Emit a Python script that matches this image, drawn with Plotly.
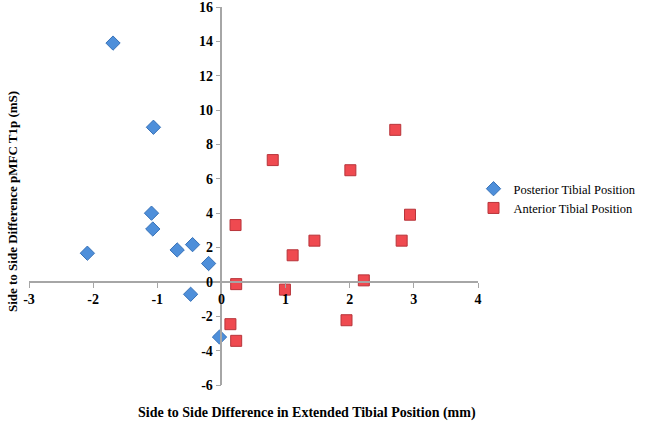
import plotly.graph_objects as go

# Posterior tibial position (blue diamonds)
post_x = [-1.69, -1.06, -1.09, -1.07, -2.09, -0.69, -0.45, -0.20, -0.48, -0.03]
post_y = [13.9, 9.0, 4.0, 3.08, 1.67, 1.86, 2.17, 1.07, -0.72, -3.21]

# Anterior tibial position (red squares)
ant_x = [0.22, 0.23, 0.14, 0.23, 0.80, 2.01, 2.71, 1.11, 1.45, 0.99, 2.22, 1.95, 2.81, 2.94]
ant_y = [3.31, -0.13, -2.46, -3.43, 7.09, 6.50, 8.85, 1.55, 2.40, -0.45, 0.09, -2.23, 2.40, 3.91]

x_range = [-3, 4]
y_range = [-6, 16]
x_ticks = [-3, -2, -1, 0, 1, 2, 3, 4]
y_ticks = [-6, -4, -2, 0, 2, 4, 6, 8, 10, 12, 14, 16]

serif = "Liberation Serif, Times New Roman, serif"

fig = go.Figure()
fig.add_trace(go.Scatter(
    x=post_x, y=post_y, mode="markers", name="Posterior Tibial Position",
    marker=dict(symbol="diamond", size=11, color="#4E8FDA",
                line=dict(color="#3872B8", width=1)),
))
fig.add_trace(go.Scatter(
    x=ant_x, y=ant_y, mode="markers", name="Anterior Tibial Position",
    marker=dict(symbol="square", size=11, color="#EF4A50",
                line=dict(color="#B8343A", width=1)),
))

# axes cross at the origin
x_pos = (0 - y_range[0]) / (y_range[1] - y_range[0])
y_pos = (0 - x_range[0]) / (x_range[1] - x_range[0])

axis_style = dict(
    showgrid=False, zeroline=False, showline=True, linecolor="#A6A6A6",
    linewidth=1.5, ticks="outside", ticklen=5, tickcolor="#A6A6A6",
    tickfont=dict(family=serif, size=14, color="black"),
    ticklabeloverflow="allow", anchor="free",
)

fig.update_layout(
    width=650, height=421,
    margin=dict(l=29, r=172, t=7, b=36, autoexpand=False),
    plot_bgcolor="white", paper_bgcolor="white",
    xaxis=dict(range=x_range, tickvals=x_ticks,
               ticktext=["<b>%d</b>" % v for v in x_ticks],
               position=x_pos, **axis_style),
    yaxis=dict(range=y_range, tickvals=y_ticks,
               ticktext=["<b>%d</b>" % v for v in y_ticks],
               position=y_pos, **axis_style),
    legend=dict(x=0.99, y=0.558, xanchor="left", yanchor="top",
                font=dict(family=serif, size=12.5, color="black"),
                itemwidth=30, tracegroupgap=0),
    showlegend=True,
    annotations=[
        dict(text="<b>Side to Side Difference in Extended Tibial Position (mm)</b>",
             xref="paper", yref="paper", x=0.619, y=0, yshift=-28,
             xanchor="center", yanchor="middle", showarrow=False,
             font=dict(family=serif, size=14, color="black")),
        dict(text="<b>Side to Side Difference pMFC T1p (mS)</b>",
             xref="paper", yref="paper", x=0, xshift=-17, y=0.484,
             xanchor="center", yanchor="middle", textangle=-90, showarrow=False,
             font=dict(family=serif, size=13, color="black")),
    ],
)

# drop the default 8px page margin so the figure fills the window
fig.write_html("out.html", config={"displayModeBar": False},
               post_script="document.body.style.margin='0';")
